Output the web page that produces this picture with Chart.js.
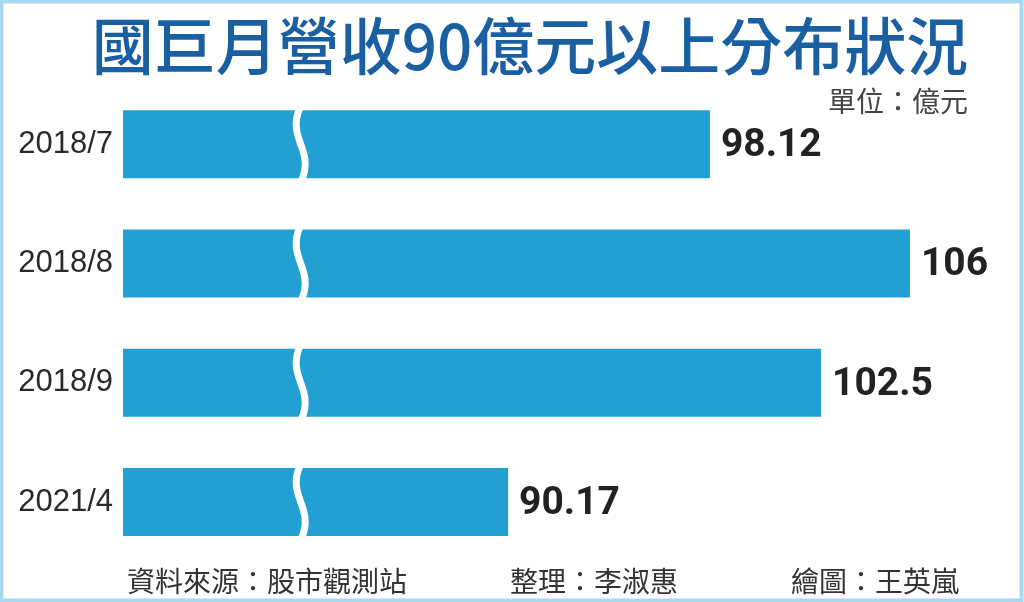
<!DOCTYPE html>
<html>
<head>
<meta charset="utf-8">
<script src="https://cdn.jsdelivr.net/npm/chart.js@4/dist/chart.umd.min.js"></script>
<style>
  html, body { margin: 0; padding: 0; background: #ffffff; }
  #wrap { width: 1024px; height: 602px; position: relative; }
</style>
</head>
<body>
<div id="wrap"><canvas id="c" width="1024" height="602"></canvas></div>
<script>
// ---- data ----
const categories = ['2018/7', '2018/8', '2018/9', '2021/4'];
const revenue = [98.12, 106, 102.5, 90.17];
const valueLabels = ['98.12', '106', '102.5', '90.17'];
const titleText = '國巨月營收90億元以上分布狀況';
const unitText = '單位：億元';
const footerTexts = ['資料來源：股市觀測站', '整理：李淑惠', '繪圖：王英嵐'];
const axisMin = 75;
const axisMax = 110;
const breakAt = 82;

const CJK = '"Noto Sans CJK TC", "Noto Sans CJK SC", sans-serif';

const framePlugin = {
  id: 'frame',
  beforeDraw(chart) {
    const ctx = chart.ctx;
    ctx.save();
    ctx.fillStyle = '#ffffff';
    ctx.fillRect(0, 0, chart.width, chart.height);
    ctx.strokeStyle = '#A8D8F0';
    ctx.lineWidth = 4;
    ctx.strokeRect(1.5, 1.5, chart.width - 4, chart.height - 3);
    // title
    ctx.fillStyle = '#1A5FA2';
    ctx.font = '500 62px ' + CJK;
    ctx.textAlign = 'center';
    ctx.textBaseline = 'middle';
    ctx.fillText(titleText, 530, 46);
    // unit
    ctx.fillStyle = '#444444';
    ctx.font = '28px ' + CJK;
    ctx.textAlign = 'right';
    ctx.fillText(unitText, 968, 101);
    // footer
    ctx.fillStyle = '#333333';
    ctx.font = '28px ' + CJK;
    ctx.textAlign = 'left';
    const fx = [127, 510, 791];
    footerTexts.forEach((t, i) => ctx.fillText(t, fx[i], 581));
    ctx.restore();
  }
};

const breakPlugin = {
  id: 'breaks',
  afterDatasetsDraw(chart) {
    const ctx = chart.ctx;
    const xs = chart.scales.x;
    const bx = xs.getPixelForValue(breakAt);
    const meta = chart.getDatasetMeta(0);
    ctx.save();
    ctx.strokeStyle = '#ffffff';
    ctx.lineWidth = 7;
    ctx.lineCap = 'butt';
    meta.data.forEach(bar => {
      const h = bar.height;
      const top = bar.y - h / 2 - 2;
      const bot = bar.y + h / 2 + 2;
      ctx.beginPath();
      ctx.moveTo(bx - 1, top);
      ctx.bezierCurveTo(bx - 14, top + h * 0.45, bx + 14, bot - h * 0.45, bx + 1, bot);
      ctx.stroke();
    });
    // value labels
    ctx.fillStyle = '#222222';
    ctx.font = 'bold 39px Roboto, "Liberation Sans", sans-serif';
    ctx.textAlign = 'left';
    ctx.textBaseline = 'middle';
    meta.data.forEach((bar, i) => {
      ctx.fillText(valueLabels[i], bar.x + 11, bar.y + 2);
    });
    ctx.restore();
  }
};

new Chart(document.getElementById('c'), {
  type: 'bar',
  data: {
    labels: categories,
    datasets: [{
      data: revenue,
      backgroundColor: '#23A0D2',
      borderWidth: 0,
      barPercentage: 0.57,
      categoryPercentage: 1.0
    }]
  },
  options: {
    indexAxis: 'y',
    responsive: false,
    animation: false,
    devicePixelRatio: 1,
    layout: { padding: { top: 84.5, bottom: 40.3, left: 0, right: 12.5 } },
    plugins: { legend: { display: false }, tooltip: { enabled: false }, title: { display: false } },
    scales: {
      x: { display: false, min: axisMin, max: axisMax },
      y: {
        grid: { display: false },
        border: { display: false },
        ticks: {
          color: '#2a2a2a',
          padding: 2,
          font: { family: '"Liberation Sans", Arial, sans-serif', size: 31 }
        },
        afterFit(scale) { scale.width = 123; }
      }
    }
  },
  plugins: [framePlugin, breakPlugin]
});
</script>
</body>
</html>
